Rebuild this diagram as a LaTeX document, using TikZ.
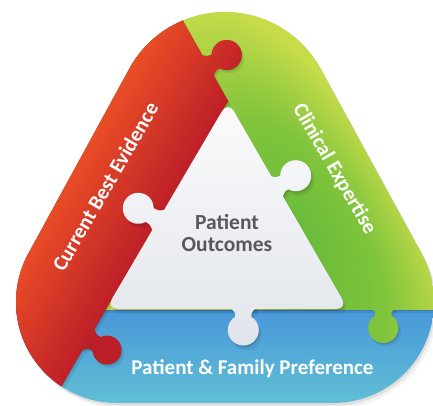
\documentclass[tikz,border=0pt]{standalone}
\usepackage{fontspec}
\setmainfont{Carlito}
\definecolor{redOut}{RGB}{234,78,38}
\definecolor{redIn}{RGB}{188,30,40}
\definecolor{gA}{RGB}{104,187,58}
\definecolor{gB}{RGB}{128,196,60}
\definecolor{gC}{RGB}{200,220,74}
\definecolor{bTop}{RGB}{70,148,218}
\definecolor{bBot}{RGB}{98,194,212}
\definecolor{wTop}{RGB}{252,252,253}
\definecolor{wBot}{RGB}{224,228,234}
\definecolor{txtGrey}{RGB}{88,88,92}
\pgfdeclareradialshading{greenrad}{\pgfpointorigin}{color(0bp)=(gA); color(6.25bp)=(gB); color(12.5bp)=(gC); color(50bp)=(gC)}
\def\outerpath{(130.6,66.5) arc[start angle=210,end angle=330,radius=109] -- (420.5,251.5) arc[start angle=-30,end angle=90,radius=101] -- (117,403) arc[start angle=90,end angle=210,radius=101] -- cycle}
\def\redpoly{(228,101) -- (149.5,-38.5) -- (-60,-38.5) -- (-60,500) -- (-4,499.5) -- (106,309) -- cycle}
\def\tripath{(228,101) -- (348,309) -- (106,309) -- cycle}
% puzzle knob: #1 command, #2 options, #3,#4 foot, #5 direction, #6 centre distance, #7 radius
\newcommand\knob[7]{\pgfmathsetmacro\kx{#6-sqrt(#7*#7-64)}\pgfmathsetmacro\ka{asin(8/#7)}%
  #1[#2,shift={(#3,#4)},rotate=#5] (-5,-11.5) -- (0,-11.5) .. controls ({0.5*\kx},-8) .. (\kx,-8)
  arc[start angle={-180+\ka},end angle={180-\ka},radius=#7]
  .. controls ({0.5*\kx},8) .. (0,11.5) -- (-5,11.5) -- cycle;}
\newcommand\redshade{\fill[redIn] (-60,-60) rectangle (490,500);
  \begin{scope}[transform canvas={shift={(112,202)},rotate=60}]
    \shade[top color=redOut, bottom color=redIn] (-340,-52) rectangle (340,52);
  \end{scope}}
\newcommand\greenshade{\begin{scope}[transform canvas={shift={(305,235)},rotate=-60,xscale=2.36}]
    \shade[shading=greenrad] (-220,-220) rectangle (220,220);
  \end{scope}}
\newcommand\blueshade{\shade[top color=bTop, bottom color=bBot] (-10,300) rectangle (450,410);}
\newcommand\whiteshade{\shade[top color=wTop, bottom color=wBot] (95,95) rectangle (365,350);}
\tikzset{
  shdA/.style={fill=black,opacity=0.10},
  shdB/.style={fill=black,opacity=0.07},
  lbl/.style={text=white,font=\fontsize{21}{24}\selectfont\bfseries,inner sep=0pt},
  ctr/.style={text=txtGrey,font=\fontsize{21.5}{24}\selectfont\bfseries,inner sep=0pt}
}
\begin{document}
\begin{tikzpicture}[x=1pt,y=-1pt]
\path[use as bounding box, fill=white] (0,0) rectangle (433,405);
% outer shadow
\fill[black,opacity=0.05,shift={(3.5,5)}] \outerpath;
\fill[black,opacity=0.08,shift={(1.5,2.5)}] \outerpath;
\begin{scope}
  \clip \outerpath;
  % blue band
  \blueshade
  % green band with shadow
  \fill[shdB,shift={(2.5,3.5)}] (-60,-60) rectangle (490,309);
  \knob{\fill}{shdB,shift={(2.5,3.5)}}{383.3}{309}{-90}{19}{15}
  \fill[shdA,shift={(1,1.5)}] (-60,-60) rectangle (490,309);
  \knob{\fill}{shdA,shift={(1,1.5)}}{383.3}{309}{-90}{19}{15}
  \begin{scope}\clip (-60,-60) rectangle (490,309); \greenshade \end{scope}
  \begin{scope}\knob{\clip}{}{383.3}{309}{-90}{19}{15} \greenshade \end{scope}
  % red band with shadow
  \fill[shdB,shift={(2.5,3.5)}] \redpoly;
  \knob{\fill}{shdB,shift={(2.5,3.5)}}{208.05}{65.5}{29.4}{21.4}{15}
  \knob{\fill}{shdB,shift={(2.5,3.5)}}{88.5}{339.3}{-30}{21.4}{14.5}
  \fill[shdA,shift={(1,1.5)}] \redpoly;
  \knob{\fill}{shdA,shift={(1,1.5)}}{208.05}{65.5}{29.4}{21.4}{15}
  \knob{\fill}{shdA,shift={(1,1.5)}}{88.5}{339.3}{-30}{21.4}{14.5}
  \begin{scope}\clip \redpoly; \redshade \end{scope}
  \begin{scope}\knob{\clip}{}{208.05}{65.5}{29.4}{21.4}{15} \redshade \end{scope}
  \begin{scope}\knob{\clip}{}{88.5}{339.3}{-30}{21.4}{14.5} \redshade \end{scope}
  % white triangle with shadow
  \fill[shdB,rounded corners=12,shift={(3,4.5)}] \tripath;
  \knob{\fill}{shdB,shift={(3,4.5)}}{158.2}{220}{149.6}{23.1}{15.5}
  \knob{\fill}{shdB,shift={(3,4.5)}}{277.25}{186.35}{30}{21.3}{15.5}
  \knob{\fill}{shdB,shift={(3,4.5)}}{243.3}{309}{-90}{21}{15.5}
  \fill[shdA,rounded corners=12,shift={(1.2,2)}] \tripath;
  \knob{\fill}{shdA,shift={(1.2,2)}}{158.2}{220}{149.6}{23.1}{15.5}
  \knob{\fill}{shdA,shift={(1.2,2)}}{277.25}{186.35}{30}{21.3}{15.5}
  \knob{\fill}{shdA,shift={(1.2,2)}}{243.3}{309}{-90}{21}{15.5}
  \begin{scope}\clip[rounded corners=12] \tripath; \whiteshade \end{scope}
  \begin{scope}\knob{\clip}{}{158.2}{220}{149.6}{23.1}{15.5} \whiteshade \end{scope}
  \begin{scope}\knob{\clip}{}{277.25}{186.35}{30}{21.3}{15.5} \whiteshade \end{scope}
  \begin{scope}\knob{\clip}{}{243.3}{309}{-90}{21}{15.5} \whiteshade \end{scope}
\end{scope}
% labels
\node[ctr,anchor=base] (pat) at (227,229) {Patient};
\node[ctr,anchor=base] (out) at (227,251) {Outcomes};
\node[lbl,anchor=base] (pfp) at (252.5,374) {Patient \& Family Preference};
\node[lbl,anchor=mid,rotate=60] (cbe) at (109.5,189) {Current Best Evidence};
\node[lbl,anchor=mid,rotate=-60] (ce) at (331.5,171) {Clinical Expertise};
\end{tikzpicture}
\end{document}
